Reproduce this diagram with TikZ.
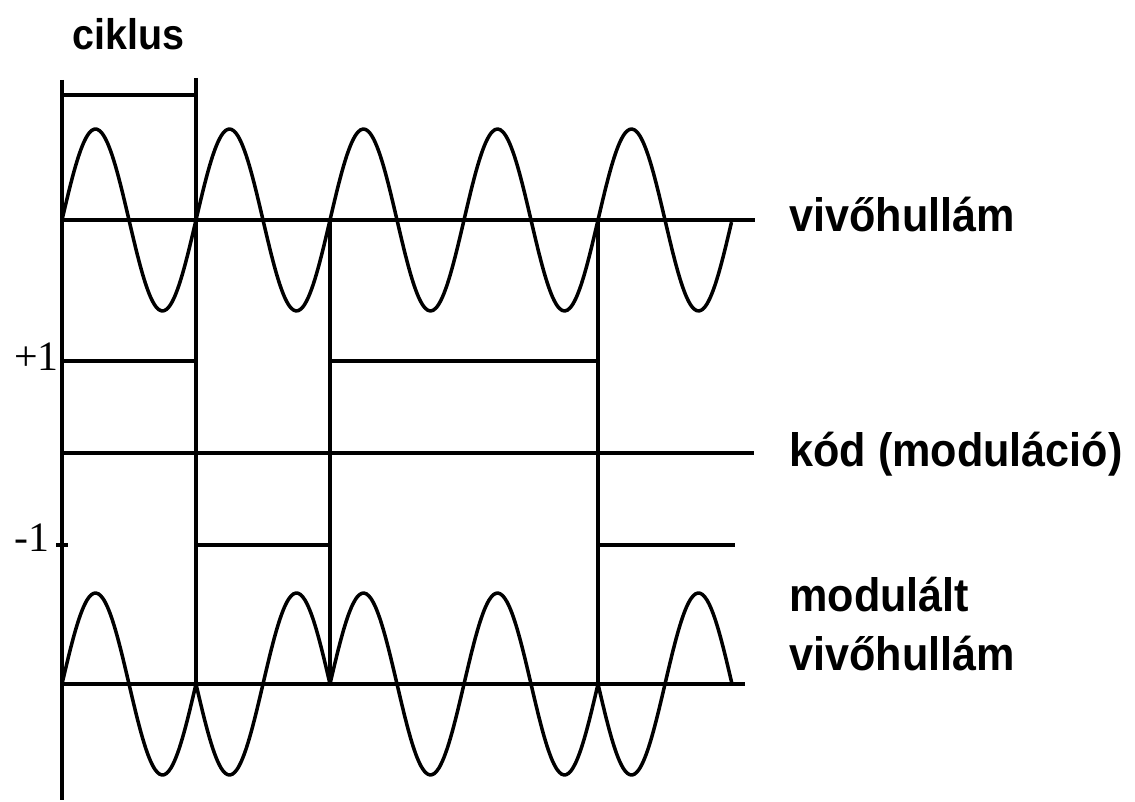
\documentclass[tikz,border=0pt]{standalone}
\usepackage{fontspec}
\setmainfont{Liberation Serif}
\newfontfamily\lblfont{Liberation Sans}[FakeStretch=0.92]
\usepackage{tikz}
\usetikzlibrary{positioning}

\begin{document}
\begin{tikzpicture}[
  x=0.02cm, y=0.02cm,
  wave/.style={line width=2pt, line join=round},
  axisline/.style={line width=1.9pt},
  lbl/.style={
    font=\lblfont\bfseries\fontsize{26.7pt}{33.4pt}\selectfont,
    anchor=base west,
    inner sep=0pt,
    align=left
  },
  level/.style={font=\fontsize{23.8pt}{26pt}\selectfont, anchor=base west, inner sep=0pt}
]
\useasboundingbox (0,0) rectangle (1135,801);

% ciklus bracket
\node[lbl, font=\lblfont\bfseries\fontsize{24.4pt}{28pt}\selectfont] (ciklus) at (72,751) {ciklus};
\draw[axisline] (62,706) -- (196,706);
\draw[axisline] (62,721) -- (62,1);
\draw[axisline] (196,723) -- (196,117);
\draw[axisline] (330,581) -- (330,117);
\draw[axisline] (598,581) -- (598,117);

% carrier
\draw[axisline] (62,581) -- (755,581);
\draw[wave] plot[domain=0:5, samples=250, smooth] ({62+134*\x},{581+91*sin(360*\x)});
\node[lbl] (carrier) at (789,569) {vivőhullám};

% code
\draw[axisline] (62,348) -- (754,348);
\draw[axisline] (56,256) -- (68,256);
\draw[wave] (62,440) -- (196,440) -- (196,256) -- (330,256) -- (330,440)
  -- (598,440) -- (598,256) -- (735,256);
\node[level] (plusone) at (14,430) {+1};
\node[level] (minusone) at (14,249) {-1};
\node[lbl] (code) at (789,334) {kód (moduláció)};

% modulated carrier
\draw[axisline] (62,117) -- (745,117);
\foreach \a/\b/\s in {0/1/1, 1/2/-1, 2/4/1, 4/5/-1}
  \draw[wave] plot[domain=\a:\b, samples=60, smooth] ({62+134*\x},{117+\s*91*sin(360*\x)});
\node[lbl] (modulated) at (789,131) {modulált\\vivőhullám};
\end{tikzpicture}
\end{document}
